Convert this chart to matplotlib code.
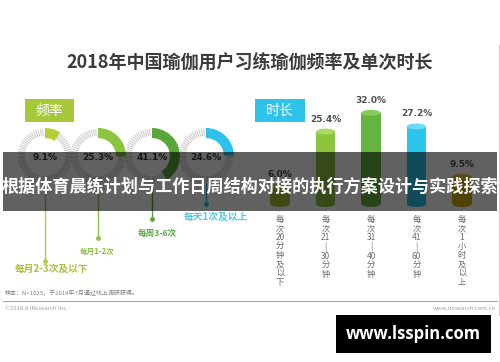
import numpy as np
import matplotlib
matplotlib.use("Agg")
import matplotlib.pyplot as plt
from matplotlib.patches import Rectangle, Ellipse

plt.rcParams['font.family'] = ['Noto Sans CJK SC', 'DejaVu Sans']

# ---------------- data ----------------
title = "2018年中国瑜伽用户习练瑜伽频率及单次时长"
freq_labels = ["每月2-3次及以下", "每月1-2次", "每周3-6次", "每天1次及以上"]
freq_values = [9.1, 25.3, 41.1, 24.6]
freq_colors = ["#b3cf35", "#8cc43f", "#5aa63a", "#2cc0ea"]

dur_labels = ["每\n次\n20\n分\n钟\n及\n以\n下", "每\n次\n21\n|\n30\n分\n钟",
              "每\n次\n31\n|\n40\n分\n钟", "每\n次\n41\n|\n60\n分\n钟",
              "每\n次\n1\n小\n时\n及\n以\n上"]
dur_values = [6.0, 25.4, 32.0, 27.2, 9.5]
dur_colors = ["#a9bd3a", "#8cc43f", "#66b440", "#2cc5ec", "#d2ae00"]
dur_tops = ["#c3d65a", "#aadc5e", "#86cc5c", "#6fdaf6", "#e6c83a"]

banner = "根据体育晨练计划与工作日周结构对接的执行方案设计与实践探索"

W, H = 500, 362
fig = plt.figure(figsize=(W / 100, H / 100), dpi=100)
fig.patch.set_facecolor("white")

def px_axes(zorder):
    a = fig.add_axes([0, 0, 1, 1], zorder=zorder)
    a.set_xlim(0, W)
    a.set_ylim(H, 0)
    a.axis("off")
    a.patch.set_alpha(0)
    return a

base = px_axes(0)

# title
base.text(250, 62, title, ha="center", va="center", fontsize=13,
          fontweight="bold", color="#3c3c3c")

# section tags
base.add_patch(Rectangle((25, 99), 49, 23, color="#a8c83c", lw=0))
base.text(49.5, 110.5, "频率", ha="center", va="center", fontsize=10, color="white")
base.add_patch(Rectangle((255, 99), 50, 23, color="#2ec4ea", lw=0))
base.text(280, 110.5, "时长", ha="center", va="center", fontsize=10, color="white")

# right border line
base.plot([499, 499], [45, 315], color="#cfcfcf", lw=0.8)

# ---------------- donuts ----------------
cxs = [45, 98, 152, 206]
cy, r = 156, 28
label_y = [269, 251, 233, 217]
label_x = [52, 97, 157, 216]
dot_y = [261, 238, 219, 204]
label_fs = [7, 5.5, 6.2, 7]
label_colors = ["#a8c23a", "#8cbf45", "#5ca84a", "#55c6e6"]
for i, v in enumerate(freq_values):
    cx = cxs[i]
    ax = fig.add_axes([(cx - r) / W, 1 - (cy + r) / H, 2 * r / W, 2 * r / H], zorder=1)
    ang = np.linspace(0, 2 * np.pi, 72, endpoint=False)
    for a in ang:
        ax.plot([0.72 * np.cos(a), 0.98 * np.cos(a)], [0.72 * np.sin(a), 0.98 * np.sin(a)],
                color="#c8c8c8", lw=0.7, solid_capstyle="butt", zorder=1)
    ax.pie([v, 100 - v], colors=[freq_colors[i], "none"], startangle=90,
           counterclock=False, radius=1.0,
           wedgeprops=dict(width=0.36, linewidth=0))
    ax.set_xlim(-1, 1)
    ax.set_ylim(-1, 1)
    ax.set_aspect("equal", adjustable="box")
    ax.axis("off")
    ax.text(0, -0.05, f"{v:.1f}%", ha="center", va="center", fontsize=6.5,
            fontweight="bold", color="#3a3a3a", family="DejaVu Sans")
    # leader line, dot and label
    base.plot([cx, cx], [cy + r, dot_y[i]], color=freq_colors[i], lw=1.0)
    base.plot([cx], [dot_y[i]], "o", ms=3.5, color=freq_colors[i], mec="none")
    base.text(label_x[i], label_y[i], freq_labels[i], ha="center", va="center",
              fontsize=label_fs[i], fontweight="bold", color=label_colors[i])

# ---------------- cylinders ----------------
x0, step, base_y, k = 280, 45.5, 204, 2.85
xl = (-0.5, len(dur_values) - 0.5)
ymax = 40
axb = fig.add_axes([(x0 - step / 2) / W, (H - base_y) / H,
                    step * len(dur_values) / W, ymax * k / H], zorder=1)
axb.set_xlim(*xl)
axb.set_ylim(0, ymax)
axb.axis("off")
axb.patch.set_alpha(0)
bw = 0.42
eh = 6 / k
xs = np.arange(len(dur_values))
axb.bar(xs, dur_values, width=bw, color=dur_colors, lw=0, zorder=2)
for i, v in enumerate(dur_values):
    axb.add_patch(Ellipse((i, 0), bw, eh, color=dur_colors[i], lw=0, zorder=1, clip_on=False))
    axb.add_patch(Ellipse((i, v), bw, eh, color=dur_tops[i], lw=0, zorder=3, clip_on=False))
    axb.annotate(f"{v:.1f}%", xy=(i, v), xytext=(0, 9), textcoords="offset points",
                 ha="center", va="center", fontsize=6.5, fontweight="bold",
                 color="#505050", family="DejaVu Sans", annotation_clip=False)
    axb.annotate(dur_labels[i], xy=(i, 0), xytext=(0, -8), textcoords="offset points",
                 ha="center", va="top", fontsize=6, color="#6a6a6a",
                 linespacing=1.0, annotation_clip=False)

# footer
base.text(5, 293, "样本：N=1025，于2018年7月通过线上调研获得。", ha="left", va="center",
          fontsize=4.3, color="#808080")
base.plot([3, 497], [301, 301], color="#a0a0a0", lw=0.7)
base.text(5, 308, "©2018.8 iResearch Inc.", ha="left", va="center", fontsize=4.3,
          color="#a0a0a0")
base.text(496, 308, "www.iresearch.com.cn", ha="right", va="center", fontsize=4.3,
          color="#a0a0a0")

# ---------------- overlay ----------------
top = px_axes(10)
top.add_patch(Rectangle((3, 152), 494, 59, color="black", alpha=0.62, lw=0))
top.text(250, 187, banner, ha="center", va="center", fontsize=12.3,
         fontweight="bold", color="white")
top.add_patch(Rectangle((336, 315), 155, 38, color="black", lw=0))
top.text(413.5, 334, "www.lsspin.com", ha="center", va="center", fontsize=12,
         fontweight="bold", color="white", family="Open Sans")

fig.savefig("out.png", dpi=100, facecolor="white")
